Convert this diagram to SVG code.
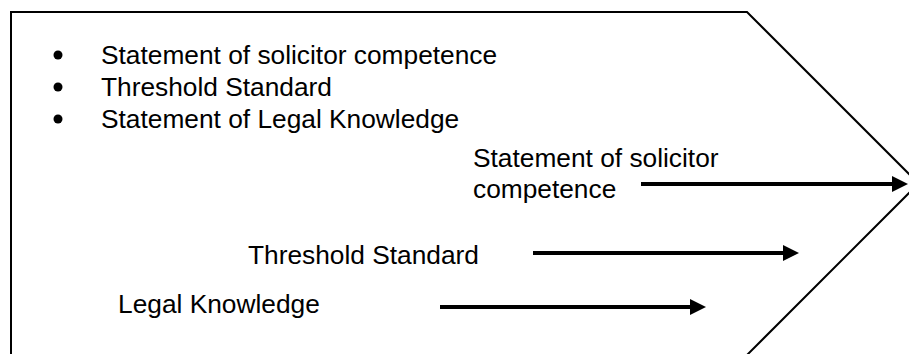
<svg xmlns="http://www.w3.org/2000/svg" width="909" height="354" viewBox="0 0 909 354">
  <style>
    .t { font-family: "Liberation Sans", Arial, sans-serif; font-size: 26.3px; fill: #000; }
    .conn { stroke: #000; stroke-width: 4; fill: none; }
  </style>
  <defs>
    <marker id="ah" markerUnits="userSpaceOnUse" markerWidth="16" markerHeight="16" refX="0" refY="8" orient="auto">
      <path d="M0,0 L16,8 L0,16 z" fill="#000"/>
    </marker>
  </defs>
  <rect x="0" y="0" width="909" height="354" fill="#fff"/>
  <g id="shape">
    <polygon points="11,12 747,12 918.5,183.5 747,355 11,355 11,360" fill="#fff" stroke="#000" stroke-width="2"/>
  </g>
  <g id="bullets">
    <circle cx="58" cy="55" r="4.5" fill="#000"/>
    <circle cx="58" cy="87" r="4.5" fill="#000"/>
    <circle cx="58" cy="119" r="4.5" fill="#000"/>
    <text class="t" x="101" y="63.5">Statement of solicitor competence</text>
    <text class="t" x="101" y="95.5">Threshold Standard</text>
    <text class="t" x="101" y="127.5">Statement of Legal Knowledge</text>
  </g>
  <g id="label-competence">
    <text class="t" x="473" y="167">Statement of solicitor</text>
    <text class="t" x="473" y="198">competence</text>
  </g>
  <g id="label-threshold">
    <text class="t" x="248" y="264">Threshold Standard</text>
  </g>
  <g id="label-legal">
    <text class="t" x="118" y="313">Legal Knowledge</text>
  </g>
  <g id="connectors">
    <line class="conn" x1="641" y1="184" x2="892" y2="184" marker-end="url(#ah)"/>
    <line class="conn" x1="533" y1="253" x2="783" y2="253" marker-end="url(#ah)"/>
    <line class="conn" x1="440" y1="307" x2="690" y2="307" marker-end="url(#ah)"/>
  </g>
</svg>
